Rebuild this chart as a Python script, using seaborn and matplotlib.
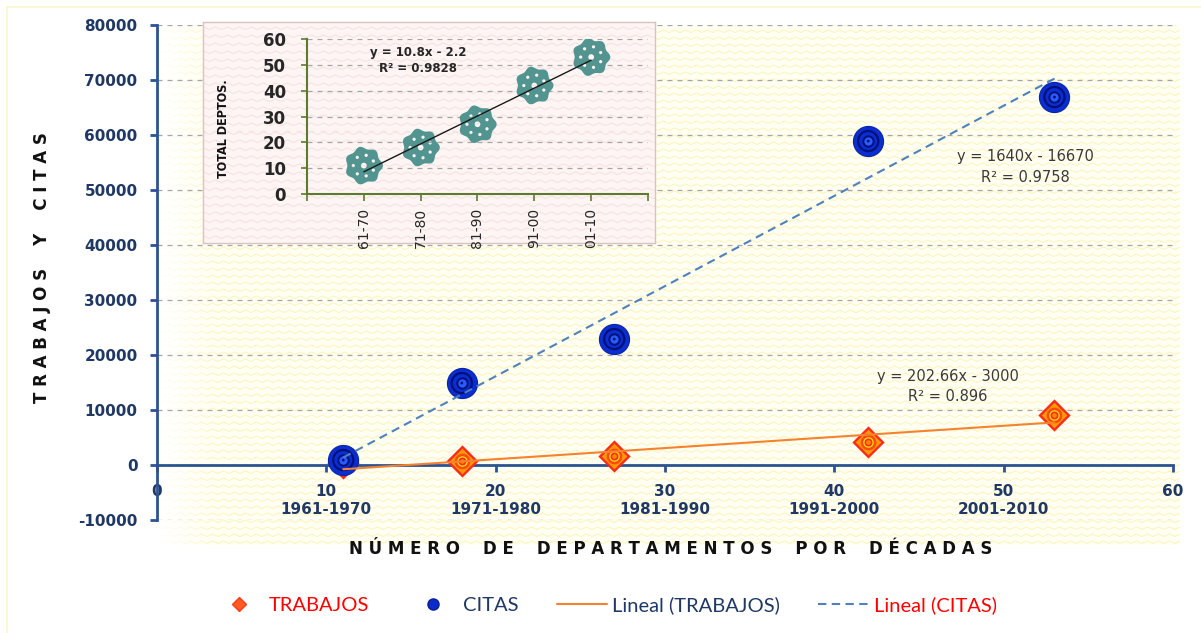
import numpy as np
import matplotlib
matplotlib.use("Agg")
import matplotlib.pyplot as plt
from matplotlib.path import Path
from matplotlib.lines import Line2D
from matplotlib.patches import Rectangle
import seaborn as sns

# ---------------------------------------------------------------- data
decadas = ["1961-1970", "1971-1980", "1981-1990", "1991-2000", "2001-2010"]
decadas_cortas = ["61-70", "71-80", "81-90", "91-00", "01-10"]
departamentos = [11, 18, 27, 42, 53]
trabajos = [300, 800, 1650, 4150, 9150]
citas = [900, 14900, 22900, 58900, 66900]

# linear trends (slope, intercept) and their R²
tend_trabajos = [202.66, -3000]
r2_trabajos = 0.896
tend_citas = [1640, -16670]
r2_citas = 0.9758

x_ticks = [0, 10, 20, 30, 40, 50, 60]
y_ticks = [-10000, 0, 10000, 20000, 30000, 40000, 50000, 60000, 70000, 80000]
inset_y_ticks = [0, 10, 20, 30, 40, 50, 60]

leyenda = ["TRABAJOS", "CITAS", "Lineal (TRABAJOS)", "Lineal (CITAS)"]

# ---------------------------------------------------------------- style
sns.set_style("white")
plt.rcParams["font.family"] = ["DejaVu Sans"]
LEGEND_FONT = ["Lato", "DejaVu Sans"]
AXIS_BLUE = "#2C5491"
LABEL_BLUE = "#1F3864"

W, H = 1201, 633
fig = plt.figure(figsize=(W / 100, H / 100), dpi=100)
fig.patch.set_facecolor("white")


def px_rect(x0, y0, x1, y1):
    return [x0 / W, 1 - y1 / H, (x1 - x0) / W, (y1 - y0) / H]


def hex_rgb(c):
    c = c.lstrip("#")
    return np.array([int(c[i:i + 2], 16) for i in (0, 2, 4)]) / 255.0


def zigzag_texture(w, h, base, line, period=11, amp=2.5, spacing=7, fade=0):
    yy, xx = np.mgrid[0:h, 0:w].astype(float)
    tri = np.abs((xx / period) % 1 - 0.5) * 2 * amp
    d = (yy + tri) % spacing
    dist = np.minimum(d, spacing - d)
    s = np.clip(1.0 - dist / 1.1, 0, 1)
    img = hex_rgb(base)[None, None, :] * (1 - s[..., None]) + hex_rgb(line)[None, None, :] * s[..., None]
    if fade:
        f = np.clip(xx / fade, 0, 1)[..., None]
        img = img * f + (1 - f) * np.ones(3)
    return img


def spaced(text, gap=" ", word_gap="    "):
    return word_gap.join(gap.join(word) for word in text.split(" "))


# thin frame around the chart
fig.add_artist(Rectangle((7 / W, -0.05), 1.1, 1 - 7 / H + 0.05, transform=fig.transFigure,
                         facecolor="none", edgecolor="#FFF6C8", linewidth=1.2, zorder=0))

# ---------------------------------------------------------------- main axes
bg = fig.add_axes(px_rect(157, 25, 1180, 545))
bg.imshow(zigzag_texture(1023, 520, "#FFFFF3", "#FFF3B8", fade=60), aspect="auto",
          interpolation="nearest")
bg.set_axis_off()
bg.set_zorder(0)

ax = fig.add_axes(px_rect(157, 25, 1173, 520))
ax.set_zorder(1)
ax.set_facecolor("none")

# trabajos: layered diamond marker
sns.scatterplot(x=departamentos, y=trabajos, ax=ax, marker="D", s=270, color="#FF2A1A",
                edgecolor="#FF2A1A", linewidth=0, legend=False, zorder=3)
sns.scatterplot(x=departamentos, y=trabajos, ax=ax, marker="D", s=170, color="#FF9A00",
                edgecolor="#FF9A00", linewidth=0, legend=False, zorder=3)
ax.scatter(departamentos, trabajos, marker="o", s=90, facecolors="#FFD21A",
           edgecolors="#FF4A10", linewidths=1.8, zorder=3)
ax.scatter(departamentos, trabajos, marker="o", s=20, facecolors="#FF8A00",
           edgecolors="#FF3010", linewidths=1.2, zorder=3)

# citas: layered bullseye marker
sns.scatterplot(x=departamentos, y=citas, ax=ax, marker="o", s=470, color="#0A2ED0",
                edgecolor="#0A22A8", linewidth=0.8, legend=False, zorder=4)
ax.scatter(departamentos, citas, marker="o", s=210, facecolors="none",
           edgecolors="#001078", linewidths=1.6, zorder=4)
ax.scatter(departamentos, citas, marker="o", s=55, facecolors="#2A5BFF",
           edgecolors="#001078", linewidths=1.4, zorder=4)
ax.scatter(departamentos, citas, marker="o", s=4, facecolors="#001078",
           edgecolors="none", zorder=4)

# trend lines
x_fit = np.array([min(departamentos), max(departamentos)], dtype=float)
sns.lineplot(x=x_fit, y=tend_trabajos[0] * x_fit + tend_trabajos[1], ax=ax,
             color="#F5822E", linewidth=1.5, zorder=5)
l_c = sns.lineplot(x=x_fit, y=tend_citas[0] * x_fit + tend_citas[1], ax=ax,
                   color="#4F81BD", linewidth=1.5, zorder=5).lines[-1]
l_c.set_dashes((4, 2.6))

ax.text(51.3, 54200,
        f"y = {tend_citas[0]:g}x - {abs(tend_citas[1]):g}\nR² = {r2_citas:g}",
        ha="center", va="center", fontsize=10.5, color="#3A3A3A", linespacing=1.45, zorder=6)
ax.text(46.7, 14300,
        f"y = {tend_trabajos[0]:g}x - {abs(tend_trabajos[1]):g}\nR² = {r2_trabajos:g}",
        ha="center", va="center", fontsize=10.5, color="#3A3A3A", linespacing=1.45, zorder=6)

ax.set_xlim(x_ticks[0], x_ticks[-1])
ax.set_ylim(y_ticks[0], y_ticks[-1])
ax.yaxis.grid(True, color="#A6A6A6", linestyle=(0, (4, 4)), linewidth=0.9)
ax.xaxis.grid(False)
ax.set_axisbelow(True)
for side in ("top", "right"):
    ax.spines[side].set_visible(False)
ax.spines["bottom"].set_position(("data", 0))
for side in ("left", "bottom"):
    ax.spines[side].set_color(AXIS_BLUE)
    ax.spines[side].set_linewidth(2.0)
ax.tick_params(axis="y", direction="out", length=5, width=2, color=AXIS_BLUE,
               labelsize=11, labelcolor=LABEL_BLUE, pad=9, left=True)
ax.tick_params(axis="x", direction="out", length=5, width=2, color=AXIS_BLUE,
               labelsize=11, labelcolor=LABEL_BLUE, pad=9, bottom=True)
ax.set_xticks(x_ticks)
ax.set_yticks(y_ticks)
ax.set_xticklabels([str(t) if i in (0, len(x_ticks) - 1) else f"{t}\n{decadas[i - 1]}"
                    for i, t in enumerate(x_ticks)], linespacing=1.25, fontweight="bold")
ax.set_yticklabels([str(t) for t in y_ticks], fontweight="bold")

fig.text(671 / W, 1 - 549 / H, spaced("NÚMERO DE DEPARTAMENTOS POR DÉCADAS"),
         ha="center", va="center", fontsize=12, fontweight="bold", color="#111111")
fig.text(42 / W, 1 - 268 / H, spaced("TRABAJOS Y CITAS", word_gap="    "),
         ha="center", va="center", rotation=90, fontsize=12, fontweight="bold",
         color="#111111")

# ---------------------------------------------------------------- inset
panel = fig.add_axes(px_rect(203, 22, 655, 243))
panel.set_zorder(3)
panel.imshow(zigzag_texture(452, 221, "#FDF5F4", "#F6E0DE", period=12, spacing=8),
             aspect="auto", interpolation="nearest")
panel.set_xticks([])
panel.set_yticks([])
for sp in panel.spines.values():
    sp.set_color("#D9C2C0")
    sp.set_linewidth(1.0)

ins = fig.add_axes(px_rect(307, 39, 648, 194))
ins.set_zorder(4)
ins.set_facecolor("none")

# flower-like marker: scalloped disc with small holes
th = np.linspace(0, 2 * np.pi, 281)
r = 0.93 + 0.07 * np.cos(7 * th)
outer = np.column_stack([r * np.cos(th), r * np.sin(th)])
verts = [outer]
codes = [[Path.MOVETO] + [Path.LINETO] * (len(outer) - 2) + [Path.CLOSEPOLY]]
th_h = np.linspace(2 * np.pi, 0, 41)
for k in range(7):
    a = k * 2 * np.pi / 7 + np.pi / 7
    cx, cy, rh = 0.55 * np.cos(a), 0.55 * np.sin(a), 0.085
    hole = np.column_stack([cx + rh * np.cos(th_h), cy + rh * np.sin(th_h)])
    verts.append(hole)
    codes.append([Path.MOVETO] + [Path.LINETO] * (len(hole) - 2) + [Path.CLOSEPOLY])
center = np.column_stack([0.15 * np.cos(th_h), 0.15 * np.sin(th_h)])
verts.append(center)
codes.append([Path.MOVETO] + [Path.LINETO] * (len(center) - 2) + [Path.CLOSEPOLY])
flower = Path(np.vstack(verts), np.concatenate(codes))

pos = np.arange(1, len(departamentos) + 1)
sns.scatterplot(x=pos, y=departamentos, ax=ins, marker=flower, s=760, color="#52948F",
                edgecolor="none", linewidth=0, legend=False, zorder=3)
pend, inter = np.polyfit(pos, departamentos, 1)
pred = pend * pos + inter
r2_ins = 1 - np.sum((np.array(departamentos) - pred) ** 2) / np.sum(
    (np.array(departamentos) - np.mean(departamentos)) ** 2)
sns.lineplot(x=pos, y=pred, ax=ins, color="#1A1A1A", linewidth=1.0, zorder=4)
ins.text(1.95, 51.5, f"y = {pend:.1f}x - {abs(inter):.1f}\nR² = {r2_ins:.4f}",
         ha="center", va="center", fontsize=8.5, fontweight="bold", color="#262626",
         linespacing=1.3, zorder=5)

ins.set_xlim(0, len(pos) + 1)
ins.set_ylim(inset_y_ticks[0], inset_y_ticks[-1])
ins.yaxis.grid(True, color="#A6A6A6", linestyle=(0, (4, 4)), linewidth=0.9)
ins.xaxis.grid(False)
ins.set_axisbelow(True)
for side in ("top", "right"):
    ins.spines[side].set_visible(False)
for side in ("left", "bottom"):
    ins.spines[side].set_color("#5E7A2E")
    ins.spines[side].set_linewidth(1.5)
ins.tick_params(axis="y", direction="out", length=4, width=1.2, color="#5E7A2E",
                labelsize=12, labelcolor="#262626", pad=11, left=True)
ins.tick_params(axis="x", direction="out", length=5, width=1.2, color="#5E7A2E",
                labelsize=10, labelcolor="#262626", pad=5, bottom=True)
ins.set_xticks(np.arange(0, len(pos) + 2))
ins.set_xticklabels([""] + decadas_cortas + [""], rotation=90)
ins.set_yticks(inset_y_ticks)
ins.set_yticklabels([str(t) for t in inset_y_ticks], fontweight="bold")
ins.set_ylabel("TOTAL DEPTOS.", fontsize=9, fontweight="bold", fontstretch="condensed",
               color="#111111")
ins.yaxis.set_label_coords(-0.225, 0.42)

# ---------------------------------------------------------------- legend
handles = [
    Line2D([], [], linestyle="none", marker="D", markersize=7, markerfacecolor="#FF5A1F",
           markeredgecolor="#FF3B1F"),
    Line2D([], [], linestyle="none", marker="o", markersize=8, markerfacecolor="#0A2BC8",
           markeredgecolor="#0A1E9A"),
    Line2D([], [], color="#F5822E", linewidth=1.5),
    Line2D([], [], color="#4F81BD", linewidth=1.5, dashes=(4, 2.6)),
]
leg = fig.legend(handles, leyenda, loc="center", bbox_to_anchor=(605 / W, 1 - 605 / H),
                 ncol=4, frameon=False, handlelength=2.5, handletextpad=0.25,
                 columnspacing=1.9, prop={"family": LEGEND_FONT, "size": 14.5})
for t, c in zip(leg.get_texts(), ["#FF0000", LABEL_BLUE, LABEL_BLUE, "#FF0000"]):
    t.set_color(c)

fig.savefig("out.png", dpi=100)
